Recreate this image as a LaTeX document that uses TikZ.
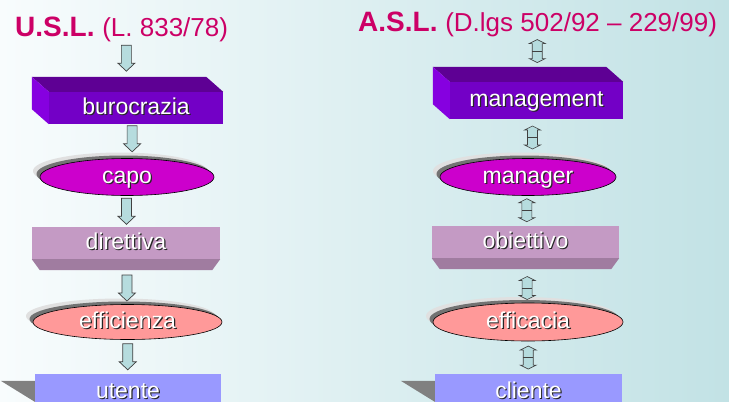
\documentclass[tikz,border=0pt]{standalone}
\usepackage{fontspec}
\setmainfont{Liberation Sans}
\usetikzlibrary{shapes.geometric,shadows,calc}

\definecolor{bgleft}{RGB}{248,252,253}
\definecolor{bgright}{RGB}{194,226,229}
\definecolor{titlered}{RGB}{204,0,102}
\definecolor{mgfront}{RGB}{115,0,198}
\definecolor{mgtop}{RGB}{94,0,148}
\definecolor{mgside}{RGB}{134,0,224}
\definecolor{mauve}{RGB}{196,154,196}
\definecolor{mauvedark}{RGB}{160,124,160}
\definecolor{ovalmag}{RGB}{204,0,204}
\definecolor{salmon}{RGB}{255,153,153}
\definecolor{lilac}{RGB}{153,153,255}
\definecolor{arrowfill}{RGB}{182,220,222}

\newcommand\shtext[1]{\rlap{\kern1.2pt\raisebox{-1.2pt}{\color{black!85}#1}}{\color{white}#1}}

\tikzset{
	heading/.style={inner sep=0pt,text=titlered},
	box/.style={rectangle,inner sep=0pt,text height=16pt,text depth=4pt,font=\fontsize{23}{27}\selectfont},
	oval/.style={ellipse,inner sep=0pt,draw=black,line width=.6pt,text height=16pt,text depth=4pt,font=\fontsize{23}{27}\selectfont,
		general shadow={fill=black!12,shadow xshift=-7pt,shadow yshift=6pt},
		general shadow={fill=black!55,shadow xshift=-3.5pt,shadow yshift=3pt}},
	flowline/.style={draw=black!75,fill=arrowfill,line width=.7pt,line join=miter},
	downarrow/.pic={
		\filldraw [flowline] (-5,-13) -- (5,-13) -- (5,5) -- (8.5,5) -- (0,13) -- (-8.5,5) -- (-5,5) -- cycle;
	},
	updown/.pic={
		\filldraw [flowline,line width=.6pt] (0,-11.5) -- (8,-7.5) -- (5,-7.5) -- (5,7.5) -- (8,7.5) -- (0,11.5) -- (-8,7.5) -- (-5,7.5) -- (-5,-7.5) -- (-8,-7.5) -- cycle;
		\draw [black!75,line width=.6pt] (-5,0) -- (5,0);
	}
}

\begin{document}
\begin{tikzpicture}[x=1pt,y=-1pt]
		\clip (0,0) rectangle (729,402);
		\fill [left color=bgleft,right color=bgright] (0,0) rectangle (729,402);
		% left column
		\node [heading,anchor=base west] (usl) at (15,36) {{\bfseries\fontsize{28}{32}\selectfont U.S.L.\ }\fontsize{26}{30}\selectfont (L. 833/78)};
		\node [box,fill=mgfront,minimum width=174pt,minimum height=32pt] (buroc) at (136,108) {\shtext{burocrazia}};
		\node [oval,fill=ovalmag,minimum width=174pt,minimum height=37pt] (capo) at (127,177) {\shtext{capo}};
		\node [box,fill=mauve,minimum width=188pt,minimum height=32pt] (diret) at (126,243) {\shtext{direttiva}};
		\node [oval,fill=salmon,minimum width=189pt,minimum height=35pt] (effi) at (127.5,322) {\shtext{efficienza}};
		\node [box,fill=lilac,minimum width=186pt,minimum height=28pt,text height=21pt,text depth=0pt] (utente) at (128,388) {\shtext{utente}};
		% right column
		\node [heading,anchor=base west] (asl) at (358,31) {{\bfseries\fontsize{28}{32}\selectfont A.S.L.\ }\fontsize{26}{30}\selectfont (D.lgs 502/92 -- 229/99)};
		\node [box,fill=mgfront,minimum width=173pt,minimum height=37pt] (manag) at (536.5,100.5) {\shtext{management}};
		\node [oval,fill=ovalmag,minimum width=176pt,minimum height=37pt] (manager) at (528,177) {\shtext{manager}};
		\node [box,fill=mauve,minimum width=187pt,minimum height=32pt] (obiet) at (525.5,242) {\shtext{obiettivo}};
		\node [oval,fill=salmon,minimum width=190pt,minimum height=38pt] (effic) at (528,322) {\shtext{efficacia}};
		\node [box,fill=lilac,minimum width=187pt,minimum height=28pt,text height=21pt,text depth=0pt] (cliente) at (528.5,388) {\shtext{cliente}};
		% box faces
		\foreach \n in {buroc,manag} {
			\fill [mgtop] (\n.north west) -- (\n.north east) -- ++(-17,-15) -- ($(\n.north west)+(-17,-15)$) -- cycle;
			\fill [mgside] (\n.north west) -- (\n.south west) -- ++(-17,-15) -- ($(\n.north west)+(-17,-15)$) -- cycle;
		}
		\foreach \n in {diret,obiet}
			\fill [mauvedark] (\n.south west) -- (\n.south east) -- ++(-8,11) -- ($(\n.south west)+(8,11)$) -- cycle;
		\foreach \n in {utente,cliente}
			\fill [black!50] ($(\n.north west)+(-34,7)$) -- ($(\n.north west)+(0,7)$) -- ($(\n.north west)+(0,28)$) -- cycle;
		% arrows
		\foreach \a/\b/\p [count=\i] in {usl/buroc/.33,buroc/capo/.43,capo/diret/.5,diret/effi/.64,effi/utente/.5} {
			\path (\a.south) -- coordinate [pos=\p] (l\i) (\b.north);
			\pic at (l\i) {downarrow};
		}
		\foreach \a/\b/\p [count=\i] in {asl/manag/.32,manag/manager/.47,manager/obiet/.48,obiet/effic/.67,effic/cliente/.5} {
			\path (\a.south) -- coordinate [pos=\p] (r\i) (\b.north);
			\pic at (r\i) {updown};
		}
	\end{tikzpicture}
\end{document}
